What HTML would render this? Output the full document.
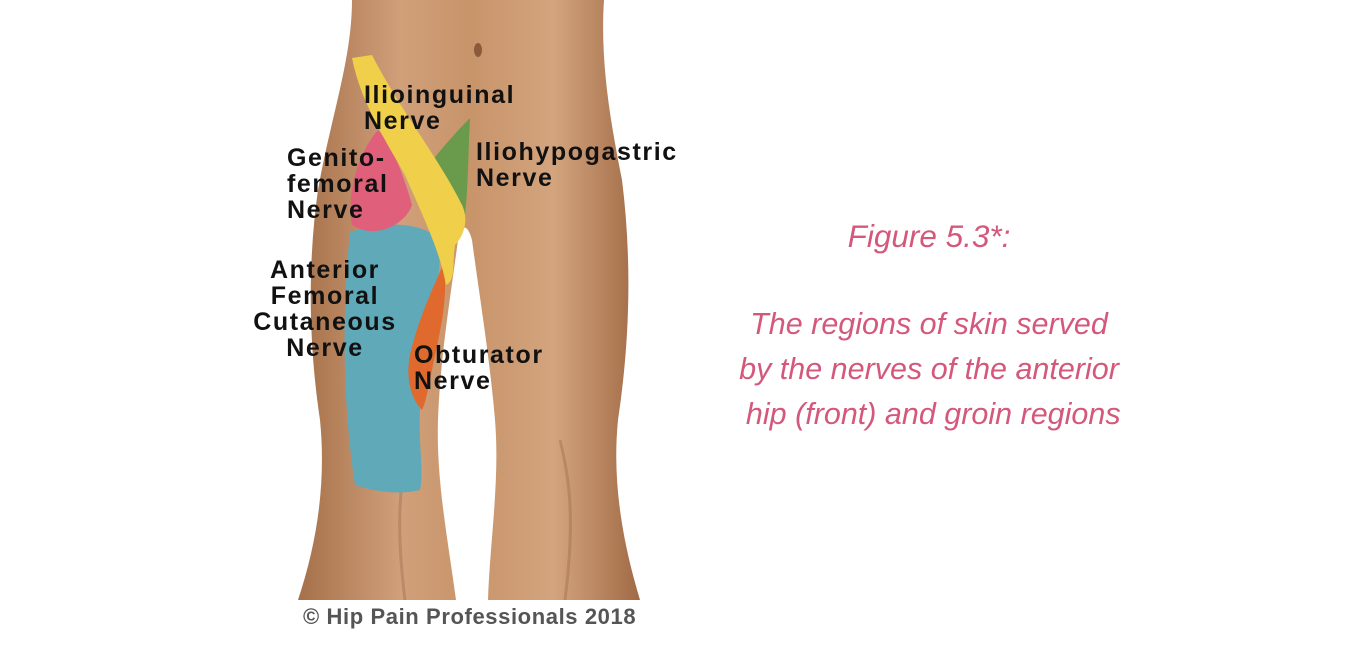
<!DOCTYPE html>
<html><head><meta charset="utf-8"><style>
html,body{margin:0;padding:0;background:#fff;}
body{width:1350px;height:650px;position:relative;overflow:hidden;font-family:"Liberation Sans",sans-serif;}
.lbl{position:absolute;font-weight:bold;font-size:25px;line-height:26px;color:#111;letter-spacing:1.6px;}
.cap{position:absolute;font-style:italic;color:#d4587c;font-size:30.5px;text-align:center;width:520px;}
</style></head><body>
<svg width="1350" height="650" style="position:absolute;left:0;top:0">
<defs>
<linearGradient id="sk" x1="0" x2="1" y1="0" y2="0">
<stop offset="0" stop-color="#a5704a"/><stop offset="0.3" stop-color="#d0a07a"/><stop offset="0.5" stop-color="#c8946a"/><stop offset="0.75" stop-color="#d3a47e"/><stop offset="1" stop-color="#a06a45"/></linearGradient>
</defs>
<path d="M352 0 L604 0 C600 60 610 120 622 180 C632 260 630 340 618 420 C612 480 622 540 640 600 L488 600 C490 540 500 480 495 420 C490 360 480 300 472 240 C468 225 462 222 458 240 C450 300 440 360 438 420 C436 480 448 540 456 600 L298 600 C318 540 326 480 320 420 C308 340 308 260 318 190 C330 120 352 60 352 0 Z" fill="url(#sk)"/>
<path d="M412 440 C400 475 395 520 405 600" stroke="#9a6a48" stroke-width="3" fill="none" opacity="0.4"/>
<path d="M560 440 C570 480 575 520 565 600" stroke="#9a6a48" stroke-width="3" fill="none" opacity="0.4"/>
<ellipse cx="478" cy="50" rx="4" ry="7" fill="#8a5a3a"/>
<path d="M350 232 C380 222 420 220 440 240 C440 300 428 360 420 410 C418 440 424 470 420 490 C400 495 375 492 355 485 C345 420 340 330 350 232 Z" fill="#5fa9b8"/>
<path d="M443 265 C450 295 438 340 432 370 C428 390 425 405 422 410 C412 400 405 380 410 355 C418 320 432 290 443 265 Z" fill="#e06a2e"/>
<path d="M352 225 C346 190 360 150 378 130 C395 150 405 180 412 205 C405 225 375 240 352 225 Z" fill="#e0607c"/>
<path d="M470 118 C468 160 468 190 465 215 C450 205 435 190 425 170 C440 150 458 130 470 118 Z" fill="#6a9a4c"/>
<path d="M352 58 L372 55 C400 110 440 160 462 205 C470 222 462 238 455 245 C452 265 456 280 446 285 C440 250 420 210 405 175 C385 140 360 100 352 58 Z" fill="#f0cf4a"/>
</svg>
<div class="lbl" style="left:364px;top:82px">Ilioinguinal<br>Nerve</div>
<div class="lbl" style="left:476px;top:139px">Iliohypogastric<br>Nerve</div>
<div class="lbl" style="left:287px;top:145px">Genito-<br>femoral<br>Nerve</div>
<div class="lbl" style="left:245px;top:257px;text-align:center;width:160px">Anterior<br>Femoral<br>Cutaneous<br>Nerve</div>
<div class="lbl" style="left:414px;top:342px">Obturator<br>Nerve</div>
<div style="position:absolute;left:303px;top:604px;font-weight:bold;font-size:22px;letter-spacing:0.6px;color:#555">© Hip Pain Professionals 2018</div>
<div class="cap" style="left:669px;top:218px;font-size:31.5px">Figure 5.3*:</div>
<div class="cap" style="left:669px;top:302px;line-height:45px">The regions of skin served<br>by the nerves of the anterior<br>&nbsp;hip (front) and groin regions</div>
</body></html>
